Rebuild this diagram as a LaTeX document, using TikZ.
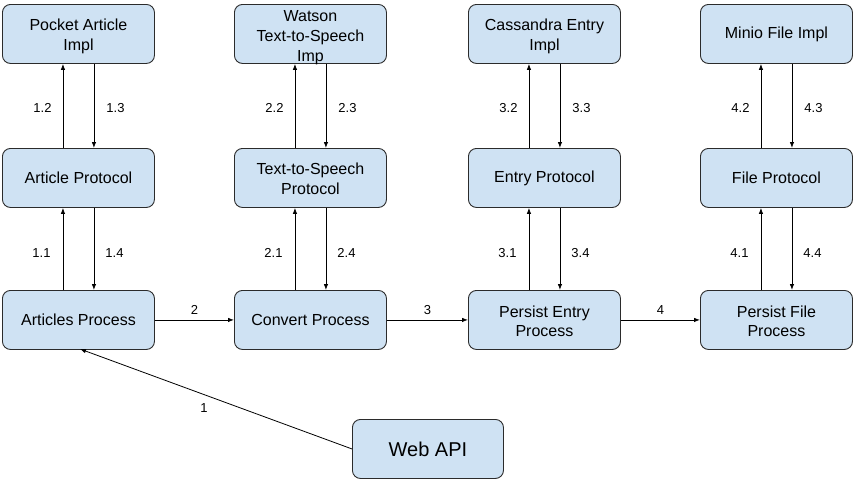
\documentclass[tikz,border=0pt]{standalone}
\usepackage{fontspec}
\setmainfont{Liberation Sans}
\usetikzlibrary{arrows.meta}
\definecolor{boxfill}{HTML}{CFE2F3}
\definecolor{boxline}{HTML}{2B2B2B}
\begin{document}
\begin{tikzpicture}[x=1pt,y=-1pt,
  box/.style={draw=boxline,fill=boxfill,rounded corners=8pt,line width=0.9pt,
    minimum width=152pt,minimum height=59pt,inner sep=0pt,align=center,
    font=\fontsize{16}{19.5}\selectfont,anchor=north west},
  boxtxt/.style={inner sep=0pt,align=center,font=\fontsize{16}{19.5}\selectfont,yshift=#1},
  conn/.style={draw=black,line width=0.8pt,-{Latex[length=6pt,width=4.5pt]}},
  lab/.style={font=\fontsize{13}{15}\selectfont,inner sep=0pt}]
\useasboundingbox (0,0) rectangle (854,479);
% row 1
\node[box,label={[boxtxt=-2.5pt]center:{Pocket Article\\Impl}}] (a1) at (2,4) {};
\node[box,label={[boxtxt=-3.5pt,font=\fontsize{16}{20}\selectfont]center:{Watson\\Text-to-Speech\\Imp}}] (b1) at (234,4) {};
\node[box,label={[boxtxt=-2.5pt]center:{Cassandra Entry\\Impl}}] (c1) at (468,4) {};
\node[box] (d1) at (700,4) {Minio File Impl};
% row 2
\node[box] (a2) at (2,148) {Article Protocol};
\node[box,label={[boxtxt=-1pt]center:{Text-to-Speech\\Protocol}}] (b2) at (234,148) {};
\node[box] (c2) at (468,148) {Entry Protocol};
\node[box] (d2) at (700,148) {File Protocol};
% row 3
\node[box] (a3) at (2,290) {Articles Process};
\node[box] (b3) at (234,290) {Convert Process};
\node[box,label={[boxtxt=-1.5pt]center:{Persist Entry\\Process}}] (c3) at (468,290) {};
\node[box,label={[boxtxt=-1.5pt]center:{Persist File\\Process}}] (d3) at (700,290) {};
\node[box,minimum width=151pt,font=\fontsize{20}{24}\selectfont] (w) at (352,419) {Web API};
% vertical connectors
\foreach \c/\n in {a/1,b/2,c/3,d/4}{
  \draw[conn] ([xshift=-15.5pt]\c2.north) -- ([xshift=-15.5pt]\c1.south);
  \draw[conn] ([xshift=15.5pt]\c1.south) -- ([xshift=15.5pt]\c2.north);
  \draw[conn] ([xshift=-15.5pt]\c3.north) -- ([xshift=-15.5pt]\c2.south);
  \draw[conn] ([xshift=15.5pt]\c2.south) -- ([xshift=15.5pt]\c3.north);
  \node[lab] at ([xshift=-36pt,yshift=-44pt]\c1.south) {\n.2};
  \node[lab] at ([xshift=37pt,yshift=-44pt]\c1.south) {\n.3};
  \node[lab] at ([xshift=-37pt,yshift=-45pt]\c2.south) {\n.1};
  \node[lab] at ([xshift=36pt,yshift=-45pt]\c2.south) {\n.4};
}
% horizontal connectors
\draw[conn] (a3.east) -- node[lab,above=5pt] {2} (b3.west);
\draw[conn] (b3.east) -- node[lab,above=5pt] {3} (c3.west);
\draw[conn] (c3.east) -- node[lab,above=5pt] {4} (d3.west);
\draw[conn] (w.west) -- (80,349);
\node[lab] at (204,408) {1};
\end{tikzpicture}
\end{document}
